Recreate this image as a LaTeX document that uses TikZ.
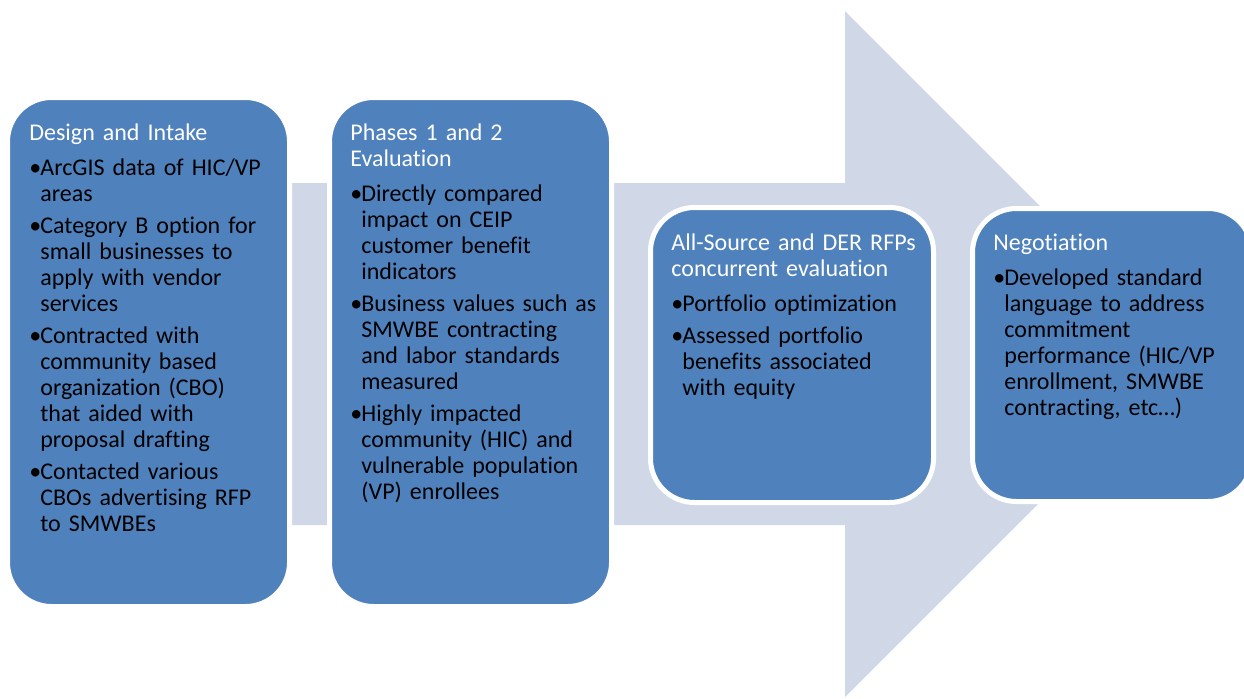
\documentclass[tikz,border=0pt]{standalone}
\usepackage{fontspec}
\setmainfont{Carlito}[Ligatures=CommonOff]
\usepackage{tikz}
\usetikzlibrary{calc}
\definecolor{stageblue}{HTML}{4F81BD}
\definecolor{arrowgray}{HTML}{D0D8E8}
\newcommand{\stagetitle}[1]{\noindent\strut\textcolor{white}{#1}\par\vspace{4.5pt}}
\newcommand{\stageitem}[1]{\noindent\hangindent=5.5pt\hangafter=1\makebox[5.5pt][l]{\textbullet}#1\par\vspace{3pt}}

\begin{document}
\begin{tikzpicture}[x=0.5pt,y=-0.5pt,
                        stage/.style={draw=white,line width=2.5pt,fill=stageblue,rounded corners=22pt},
                        stagetext/.style={anchor=north west,inner sep=0pt,text width=135pt,align=left,
                        font=\fontsize{12}{13}\selectfont}
                        ]
                        \useasboundingbox (0,0) rectangle (1244,698);
                        % draw big arrow
                        \coordinate (tail) at (292,354);
                        \coordinate (neck) at (845,354);
                        \coordinate (tip) at (1188,354);
                        \fill[arrowgray] ($ (tail) + (0,-171) $) -- ($ (neck) + (0,-171) $) -- ($ (neck) + (0,-343) $)
                            -- (tip) -- ($ (neck) + (0,343) $) -- ($ (neck) + (0,171) $) -- ($ (tail) + (0,171) $) -- cycle;

                        % draw stages
                        \draw[stage] (7.5,97.5) rectangle (289.5,606.5);
                        \draw[stage] (329.5,97.5) rectangle (611.5,606.5);
                        \draw[stage] (650.5,207.5) rectangle (933.5,502.5);
                        \draw[stage] (972.5,208.5) rectangle (1252,501.5);

                        \node[stagetext] (design) at (29,122) {%
                            \stagetitle{Design and Intake}
                            \stageitem{ArcGIS data of HIC/VP\newline areas}
                            \stageitem{Category B option for\newline small businesses to\newline apply with vendor\newline services}
                            \stageitem{Contracted with\newline community based\newline organization (CBO)\newline that aided with\newline proposal drafting}
                            \stageitem{Contacted various\newline CBOs advertising RFP\newline to SMWBEs}};
                        \node[stagetext] (phases) at (350,122) {%
                            \stagetitle{Phases 1 and 2\newline Evaluation}
                            \stageitem{Directly compared\newline impact on CEIP\newline customer benefit\newline indicators}
                            \stageitem{Business values such as\newline SMWBE contracting\newline and labor standards\newline measured}
                            \stageitem{Highly impacted\newline community (HIC) and\newline vulnerable population\newline (VP) enrollees}};
                        \node[stagetext] (allsource) at (671,232) {%
                            \stagetitle{All-Source and DER RFPs\newline concurrent evaluation}
                            \stageitem{Portfolio optimization}
                            \stageitem{Assessed portfolio\newline benefits associated\newline with equity}};
                        \node[stagetext] (negotiation) at (993,232) {%
                            \stagetitle{Negotiation}
                            \stageitem{Developed standard\newline language to address\newline commitment\newline performance (HIC/VP\newline enrollment, SMWBE\newline contracting, etc…)}};
                \end{tikzpicture}
\end{document}
